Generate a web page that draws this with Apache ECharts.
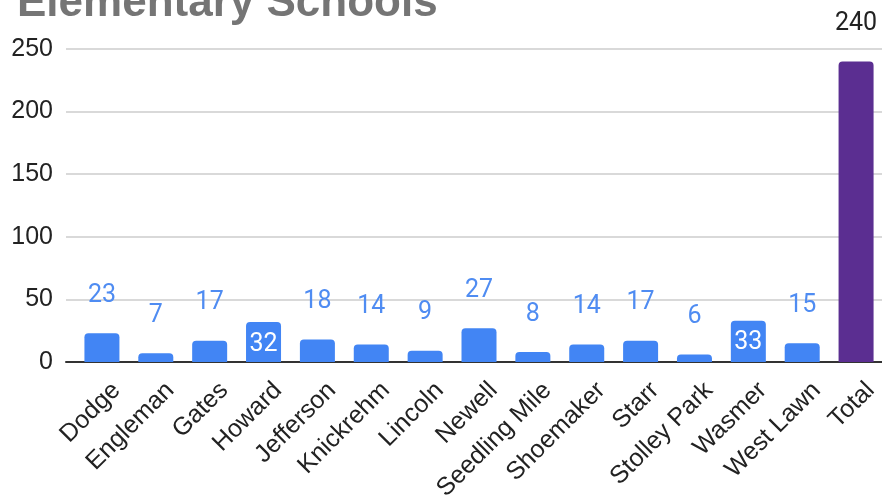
<!DOCTYPE html>
<html>
<head>
<meta charset="utf-8">
<script src="https://cdn.jsdelivr.net/npm/echarts@6/dist/echarts.min.js"></script>
<style>
html,body{margin:0;padding:0;background:#fff;}
#chart{width:882px;height:499px;}
</style>
</head>
<body>
<div id="chart"></div>
<script>
const titleText = "Elementary Schools";
const categories = ["Dodge","Engleman","Gates","Howard","Jefferson","Knickrehm","Lincoln","Newell","Seedling Mile","Shoemaker","Starr","Stolley Park","Wasmer","West Lawn","Total"];
const values = [23,7,17,32,18,14,9,27,8,14,17,6,33,15,240];
const insideLabelCategories = ["Howard","Wasmer"];
const totalCategory = "Total";
const yTicks = {min:0, max:250, interval:50};

const BLUE = "#4285F4";
const PURPLE = "#5B2E91";
const LABEL_BLUE = "#4F8CF2";

const data = categories.map((c, i) => {
  const item = {value: values[i]};
  if (c === totalCategory) {
    item.itemStyle = {color: PURPLE};
    item.label = {color: "#222222"};
  } else if (insideLabelCategories.includes(c)) {
    item.label = {position: "insideTop", distance: 10, color: "#ffffff"};
  }
  return item;
});

const chart = echarts.init(document.getElementById("chart"), null, {renderer: "canvas"});
chart.setOption({
  animation: false,
  title: {
    text: titleText,
    left: 12,
    top: -23,
    textStyle: {fontFamily: "Liberation Sans", fontWeight: "bold", fontSize: 44, color: "#757575"}
  },
  grid: [
    {left: 66, right: -1, top: 49, bottom: 137, outerBoundsMode: "none", containLabel: false},
    {left: 75, right: -1, top: 49, bottom: 137, outerBoundsMode: "none", containLabel: false}
  ],
  xAxis: [
    {
      type: "category", gridIndex: 0, data: categories,
      axisTick: {show: false},
      axisLabel: {show: false},
      axisLine: {lineStyle: {color: "#333333", width: 2}}
    },
    {
      type: "category", gridIndex: 1, data: categories,
      axisTick: {show: false},
      axisLine: {show: false},
      axisLabel: {
        rotate: 45,
        interval: 0,
        margin: 10,
        verticalAlign: "top",
        padding: [8, 0, 0, 0],
        fontFamily: "Liberation Sans",
        fontSize: 25,
        color: "#222222"
      }
    }
  ],
  yAxis: [
    {
      type: "value", gridIndex: 0,
      min: yTicks.min, max: yTicks.max, interval: yTicks.interval,
      axisLine: {show: false},
      axisTick: {show: false},
      splitLine: {lineStyle: {color: "#cccccc", width: 1.5}},
      axisLabel: {margin: 13, fontFamily: "Liberation Sans", fontSize: 25, color: "#222222"}
    },
    {
      type: "value", gridIndex: 1,
      min: yTicks.min, max: yTicks.max, interval: yTicks.interval,
      axisLine: {show: false}, axisTick: {show: false},
      splitLine: {show: false}, axisLabel: {show: false}
    }
  ],
  series: [{
    type: "bar",
    xAxisIndex: 1,
    yAxisIndex: 1,
    data: data,
    barWidth: 35,
    itemStyle: {color: BLUE, borderRadius: [4,4,0,0]},
    label: {
      show: true,
      position: "top",
      distance: 25,
      fontFamily: "Roboto",
      fontSize: 25,
      color: LABEL_BLUE
    }
  }]
});
</script>
</body>
</html>
